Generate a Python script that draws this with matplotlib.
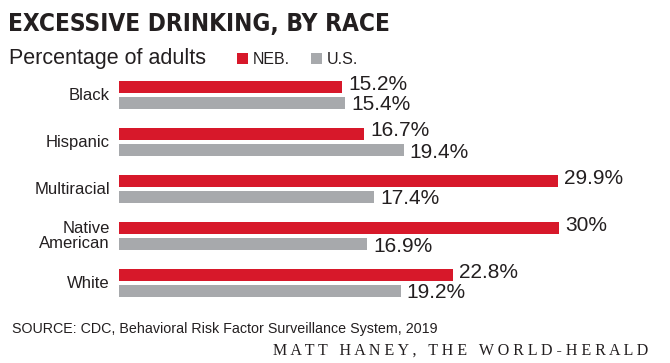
import numpy as np
import matplotlib
matplotlib.use("Agg")
import matplotlib.pyplot as plt
from matplotlib.patches import Rectangle

# ------------------------------------------------------------
# DATA
# ------------------------------------------------------------
categories = ["Black", "Hispanic", "Multiracial", "Native\nAmerican", "White"]
neb_values = [15.2, 16.7, 29.9, 30.0, 22.8]
us_values = [15.4, 19.4, 17.4, 16.9, 19.2]
neb_labels = ["15.2%", "16.7%", "29.9%", "30%", "22.8%"]
us_labels = ["15.4%", "19.4%", "17.4%", "16.9%", "19.2%"]

# ------------------------------------------------------------
# STYLE
# ------------------------------------------------------------
NEB_COLOR = "#d7182a"
US_COLOR = "#a7a9ac"
TEXT_COLOR = "#231f20"
SANS = "Liberation Sans"
SERIF = "Liberation Serif"

W, H = 670, 363


def fx(px):
    return px / W


def fy(py):
    return 1 - py / H


fig = plt.figure(figsize=(W / 100, H / 100), dpi=100)
fig.patch.set_facecolor("white")

# axes in pixel layout: bars start at x=119, groups 47 px apart
ax_left, ax_right = 119, 647
ax_top, ax_bottom = 70, 305
ax = fig.add_axes([fx(ax_left), fy(ax_bottom), (ax_right - ax_left) / W,
                   (ax_bottom - ax_top) / H])
ax.axis("off")

pitch = 47.0
first_center = 95.0
ax.set_xlim(0, (ax_right - ax_left) / 14.67)
ax.set_ylim((ax_bottom - first_center) / pitch, (ax_top - first_center) / pitch)

y = np.arange(len(categories))
bar_h = 11.5 / pitch
off = 8.0 / pitch

ax.barh(y - off, neb_values, height=bar_h, color=NEB_COLOR, linewidth=0)
ax.barh(y + off, us_values, height=bar_h, color=US_COLOR, linewidth=0)

for i in range(len(categories)):
    ax.annotate(neb_labels[i], (neb_values[i], y[i] - off),
                xytext=(6, 3), textcoords="offset pixels",
                ha="left", va="center", fontsize=15, family=SANS,
                color=TEXT_COLOR)
    ax.annotate(us_labels[i], (us_values[i], y[i] + off),
                xytext=(6, -2), textcoords="offset pixels",
                ha="left", va="center", fontsize=15, family=SANS,
                color=TEXT_COLOR)
    ax.annotate(categories[i], (0, y[i]), xytext=(-9, 0),
                textcoords="offset pixels", ha="right", va="center",
                fontsize=12, family=SANS, color=TEXT_COLOR,
                linespacing=0.95, annotation_clip=False)

# ------------------------------------------------------------
# TITLES, LEGEND, NOTES
# ------------------------------------------------------------
fig.text(fx(8), fy(31), "EXCESSIVE DRINKING, BY RACE", fontsize=17.5,
         fontweight="bold", family="DejaVu Sans", fontstretch="condensed",
         color=TEXT_COLOR, va="baseline")
fig.text(fx(9), fy(64), "Percentage of adults", fontsize=15.5,
         family=SANS, color=TEXT_COLOR, va="baseline")

fig.add_artist(Rectangle((fx(237), fy(64)), 11 / W, 11 / H,
                         transform=fig.transFigure, color=NEB_COLOR, lw=0))
fig.add_artist(Rectangle((fx(311), fy(64)), 11 / W, 11 / H,
                         transform=fig.transFigure, color=US_COLOR, lw=0))
fig.text(fx(253), fy(64), "NEB.", fontsize=11.5, family=SANS,
         color=TEXT_COLOR, va="baseline")
fig.text(fx(327), fy(64), "U.S.", fontsize=11.5, family=SANS,
         color=TEXT_COLOR, va="baseline")

fig.text(fx(12), fy(333), "SOURCE: CDC, Behavioral Risk Factor Surveillance System, 2019",
         fontsize=10.3, family=SANS, color=TEXT_COLOR, va="baseline")

credit = "MATT HANEY, THE WORLD-HERALD"
credit_spaced = "   ".join(" ".join(word) for word in credit.split(" "))
fig.text(fx(648), fy(355), credit_spaced, fontsize=11.5, family=SERIF,
         color=TEXT_COLOR, va="baseline", ha="right")

fig.savefig("out.png", dpi=100, facecolor="white")
